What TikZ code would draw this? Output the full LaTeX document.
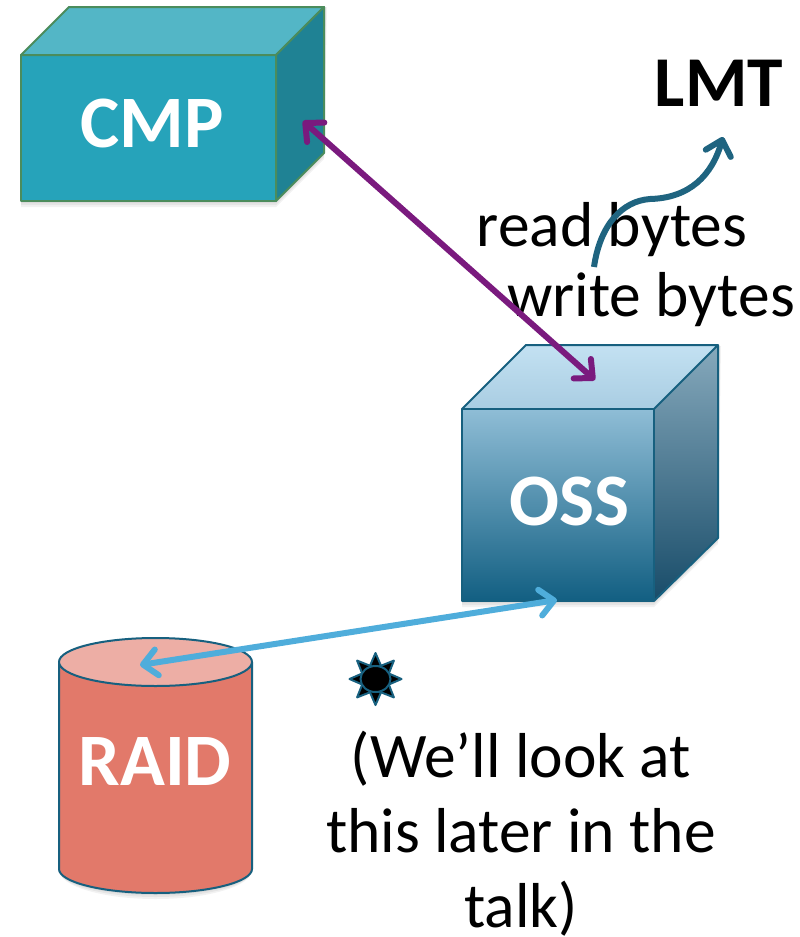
\documentclass[tikz,border=0pt]{standalone}
\usepackage{fontspec}
\setmainfont{Carlito}
\usetikzlibrary{arrows.meta}
\definecolor{cmpF}{HTML}{26A3BA}
\definecolor{cmpT}{HTML}{53B6C6}
\definecolor{cmpR}{HTML}{1F8294}
\definecolor{cmpE}{HTML}{4B8C5C}
\definecolor{ossE}{HTML}{17607F}
\definecolor{ossFa}{HTML}{8FBDD6}
\definecolor{ossFb}{HTML}{125F82}
\definecolor{ossTa}{HTML}{C3E1F2}
\definecolor{ossTb}{HTML}{A9CDE2}
\definecolor{ossRa}{HTML}{86A9BC}
\definecolor{ossRb}{HTML}{184C69}
\definecolor{raidF}{HTML}{E2796A}
\definecolor{raidT}{HTML}{EDAEA5}
\definecolor{purp}{HTML}{7A1A7E}
\definecolor{sky}{HTML}{4FADDB}
\definecolor{wave}{HTML}{1F6480}
\tikzset{
  x=1pt,y=-1pt,
  face/.style={line width=2pt,line join=round},
  cmpface/.style={face,draw=cmpE},
  ossline/.style={face,draw=ossE},
  softshadow/.style={black,opacity=.05},
  boxlabel/.style={text=white,font=\fontsize{74}{74}\selectfont\bfseries,inner sep=0pt},
  body/.style={text=black,font=\fontsize{63.5}{75}\selectfont,inner sep=0pt,align=center},
  link/.style={line width=6pt,{Straight Barb[length=14pt,width=26pt,line cap=round,line join=round]}-{Straight Barb[length=14pt,width=26pt,line cap=round,line join=round]}},
  oneway/.style={line width=6pt,-{Straight Barb[length=14pt,width=26pt,line cap=round,line join=round]}},
}
\begin{document}
\begin{tikzpicture}
\useasboundingbox (0,0) rectangle (800,937);
\fill[white] (0,0) rectangle (800,937);
% CMP box
\foreach \d in {2,4,6}{
  \fill[softshadow] (21,55) -- (21,201+\d) -- (276,201+\d) -- (324,153+\d) -- (324+\d/2,7) -- cycle;
}
\filldraw[cmpface,fill=cmpF] (21,55) rectangle (276,201);
\filldraw[cmpface,fill=cmpT] (21,55) -- (69,7) -- (324,7) -- (276,55) -- cycle;
\filldraw[cmpface,fill=cmpR] (276,55) -- (324,7) -- (324,153) -- (276,201) -- cycle;
\node[boxlabel] (cmp) at (152,123) {CMP};
\coordinate (cmpEnd) at (303,121);
% OSS box
\foreach \d in {2,4,6}{
  \fill[softshadow] (462,409) -- (462,601+\d) -- (654,601+\d) -- (718,538+\d) -- (718+\d/2,346) -- cycle;
}
\shade[top color=ossFa,bottom color=ossFb] (462,409) rectangle (654,601);
\shade[top color=ossTa,bottom color=ossTb] (462,409) -- (526,345) -- (718,345) -- (654,409) -- cycle;
\shade[top color=ossRa,bottom color=ossRb] (654,409) -- (718,345) -- (718,538) -- (654,601) -- cycle;
\draw[ossline] (462,409) rectangle (654,601);
\draw[ossline] (462,409) -- (526,345) -- (718,345) -- (654,409);
\draw[ossline] (718,345) -- (718,538) -- (654,601);
\node[boxlabel] (oss) at (569,501) {OSS};
\coordinate (ossTop) at (595,380);
\coordinate (ossBottom) at (557,600);
% RAID cylinder
\foreach \d in {2,4,6}{
  \fill[softshadow] (59,662) -- (59,870) arc[start angle=180,end angle=360,x radius=96.5,y radius=-23-\d] -- (252,662) -- cycle;
}
\filldraw[ossline,fill=raidF] (59,662) -- (59,869) .. controls (59,882) and (102,893) .. (155.5,893) .. controls (209,893) and (252,882) .. (252,869) -- (252,662) -- cycle;
\filldraw[ossline,fill=raidT] (155.5,662) ellipse[x radius=96.5,y radius=24];
\node[boxlabel] (raid) at (155,761) {RAID};
\coordinate (raidTop) at (140,665);
% Sun
\foreach \a in {0,45,...,315}{
  \filldraw[line width=2pt,draw=ossE,fill=black,line join=round,rotate around={\a:(375.5,679)}]
    (375.5,653) -- (382,668) -- (369,668) -- cycle;
}
\filldraw[line width=2pt,draw=ossE,fill=black] (375.5,679) ellipse[x radius=15,y radius=13];
% Labels
\node[text=black,font=\fontsize{71.5}{72}\selectfont\bfseries,inner sep=0pt] (lmt) at (719,83) {LMT};
\node[body] (read) at (612,230) {read bytes};
\node[body] (write) at (651,300) {write bytes};
\node[body] (note) at (521,833.5) {(We’ll look at\\this later in the\\talk)};
% Connectors
\coordinate (waveStart) at (594,267);
\coordinate (lmtEnd) at (723,137);
\draw[link,draw=purp] (cmpEnd) -- (ossTop);
\draw[link,draw=sky] (raidTop) -- (ossBottom);
\draw[oneway,draw=wave] (waveStart) .. controls (600,225) and (622,201) .. (650,199) .. controls (690,198) and (712,175) .. (lmtEnd);
\end{tikzpicture}
\end{document}
